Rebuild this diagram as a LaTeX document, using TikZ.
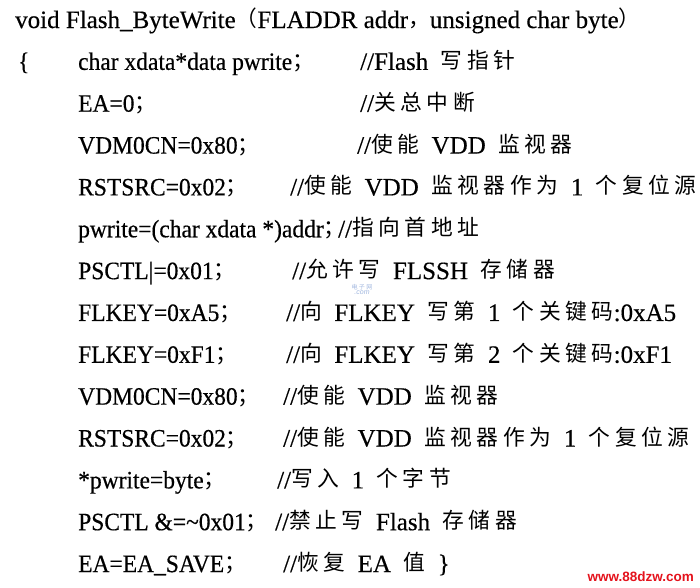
\documentclass[tikz,border=0pt]{standalone}
\usepackage{fontspec}
\setmainfont{Liberation Serif}[FakeBold=0.4]
\newfontfamily\codefont{Liberation Serif}[FakeStretch=0.94,FakeBold=0.4]
\newfontfamily\zhfont{Noto Sans CJK SC}[Scale=0.87,LetterSpace=21]
\newfontfamily\sitefont{Liberation Sans}
\newcommand{\zh}[1]{\raisebox{1.5pt}{\zhfont #1}}
\newcommand{\cmtspace}{\spaceskip=0.5em\relax}
\usetikzlibrary{positioning}
\definecolor{siteRed}{RGB}{228,18,28}
\definecolor{markBlue}{RGB}{160,182,222}

\begin{document}
\begin{tikzpicture}
      \tikzset{
        node distance=41.85pt,
        every node/.style={inner sep=0pt,anchor=base west,font=\codefont\fontsize{25}{30}\selectfont},
        codeline/.style={below=of #1.base west,anchor=base west},
        comment/.style={font=\rmfamily\fontsize{25}{30}\selectfont\cmtspace}
      }
      \useasboundingbox (0,0) rectangle (700pt,-587pt);

      % code column
      \node[font=\rmfamily\fontsize{25}{30}\selectfont] (c1) at (15pt,-28pt) {void Flash\_ByteWrite\zh{（}FLADDR addr\zh{，}unsigned char byte\zh{）}};
      \node (brace) at (18pt,-69.85pt) {\{};
      \node (c2) at (78pt,-69.85pt) {char xdata*data pwrite\zh{；}};
      \node[codeline=c2] (c3) {EA=0\zh{；}};
      \node[codeline=c3] (c4) {VDM0CN=0x80\zh{；}};
      \node[codeline=c4] (c5) {RSTSRC=0x02\zh{；}};
      \node[codeline=c5] (c6) {pwrite=(char xdata *)addr\zh{；}};
      \node[codeline=c6] (c7) {PSCTL|=0x01\zh{；}};
      \node[codeline=c7] (c8) {FLKEY=0xA5\zh{；}};
      \node[codeline=c8] (c9) {FLKEY=0xF1\zh{；}};
      \node[codeline=c9] (c10) {VDM0CN=0x80\zh{；}};
      \node[codeline=c10] (c11) {RSTSRC=0x02\zh{；}};
      \node[codeline=c11] (c12) {*pwrite=byte\zh{；}};
      \node[codeline=c12] (c13) {PSCTL \&=\textasciitilde 0x01\zh{；}};
      \node[codeline=c13] (c14) {EA=EA\_SAVE\zh{；}};

      % comments
      \node[comment] (m2) at (360pt,0 |- c2.base) {//Flash \zh{写指针}};
      \node[comment] (m3) at (360pt,0 |- c3.base) {//\zh{关总中断}};
      \node[comment] (m4) at (357pt,0 |- c4.base) {//\zh{使能} VDD \zh{监视器}};
      \node[comment] (m5) at (290pt,0 |- c5.base) {//\zh{使能} VDD \zh{监视器作为} 1 \zh{个复位源}};
      \node[comment] (m6) at (338pt,0 |- c6.base) {//\zh{指向首地址}};
      \node[comment] (m7) at (292pt,0 |- c7.base) {//\zh{允许写} FLSSH \zh{存储器}};
      \node[comment] (m8) at (286pt,0 |- c8.base) {//\zh{向} FLKEY \zh{写第} 1 \zh{个关键码}:0xA5};
      \node[comment] (m9) at (286pt,0 |- c9.base) {//\zh{向} FLKEY \zh{写第} 2 \zh{个关键码}:0xF1};
      \node[comment] (m10) at (283pt,0 |- c10.base) {//\zh{使能} VDD \zh{监视器}};
      \node[comment] (m11) at (283pt,0 |- c11.base) {//\zh{使能} VDD \zh{监视器作为} 1 \zh{个复位源}};
      \node[comment] (m12) at (277pt,0 |- c12.base) {//\zh{写入} 1 \zh{个字节}};
      \node[comment] (m13) at (275pt,0 |- c13.base) {//\zh{禁止写} Flash \zh{存储器}};
      \node[comment] (m14) at (283pt,0 |- c14.base) {//\zh{恢复} EA \zh{值} \}};

      % marks
      \node[anchor=center,text=markBlue,font=\zhfont\fontsize{7}{7}\selectfont] (markzh) at (362pt,-287pt) {电子网};
      \node[below=1pt of markzh,text=markBlue,font=\sitefont\itshape\fontsize{7}{7}\selectfont] (markcom) {.com};
      \node[anchor=base east,text=siteRed,font=\sitefont\bfseries\fontsize{13.5}{14}\selectfont] (site) at (694pt,-581pt) {www.88dzw.com};
\end{tikzpicture}
\end{document}
